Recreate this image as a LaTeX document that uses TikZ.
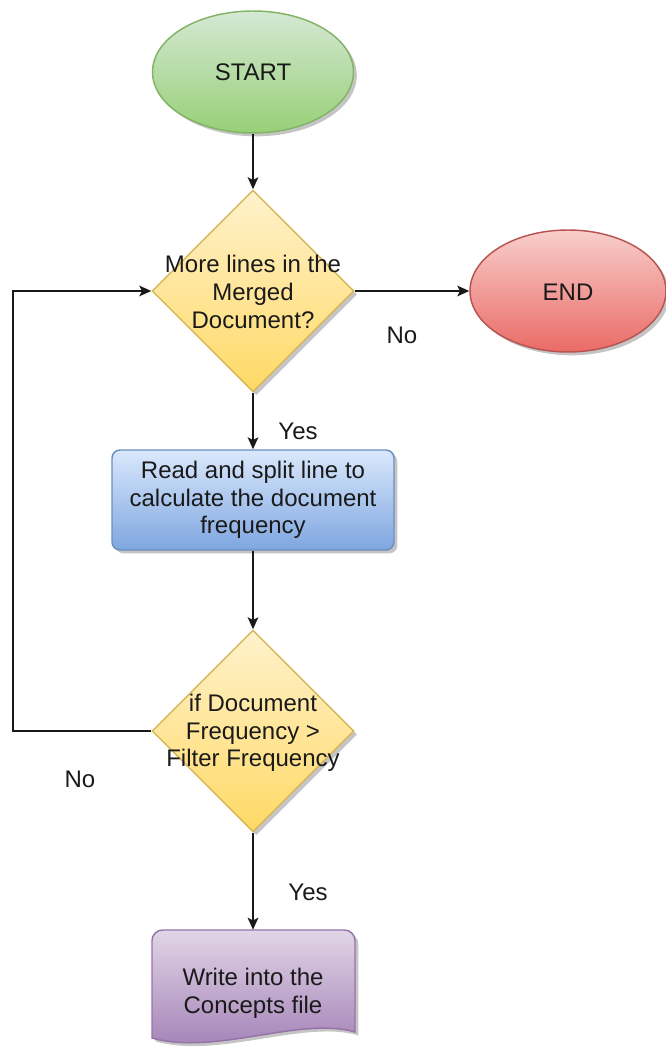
\documentclass[tikz,border=0pt]{standalone}
\usepackage{fontspec}
\setmainfont{Liberation Sans}
\usetikzlibrary{shapes.geometric,arrows.meta,shadows}
\definecolor{txt}{HTML}{1A1A1A}
\begin{document}
\begin{tikzpicture}[x=0.75pt,y=-0.75pt,
  every node/.style={font=\fontsize{18pt}{20.7pt}\selectfont, text=txt},
  shad/.style={drop shadow={shadow xshift=2.5pt,shadow yshift=-2.5pt,fill=black!45,opacity=0.5}},
  term/.style={ellipse,draw,line width=1.1pt,shad,minimum width=150.75pt,minimum height=91.5pt,inner sep=0pt},
  dec/.style={diamond,aspect=1,draw={rgb,255:red,214;green,182;blue,86},line width=1.1pt,
    top color={rgb,255:red,255;green,242;blue,204},bottom color={rgb,255:red,255;green,217;blue,102},
    shad,minimum width=151.5pt,minimum height=151.5pt,inner sep=0pt},
  proc/.style={rectangle,rounded corners=6pt,draw={rgb,255:red,108;green,142;blue,191},line width=1.1pt,
    top color={rgb,255:red,218;green,232;blue,252},bottom color={rgb,255:red,126;green,166;blue,224},
    shad,minimum width=211.5pt,minimum height=75pt,inner sep=0pt,align=center},
  lbl/.style={align=center,inner sep=0pt},
  conn/.style={line width=1.1pt,draw=black!90,-{Stealth[length=9pt,width=8pt,inset=2pt]}}
]
\useasboundingbox (0,0) rectangle (666,1048);

% START
\node[term,draw={rgb,255:red,130;green,179;blue,102},
  top color={rgb,255:red,213;green,232;blue,212},bottom color={rgb,255:red,151;green,208;blue,119}]
  (start) at (253,72) {};
\node[lbl] (startt) at (253,72) {START};

% Decision 1
\node[dec] (d1) at (253,291) {};
\node[lbl] (d1t) at (253,292) {More lines in the\\Merged\\Document?};

% END
\node[term,minimum width=147pt,draw={rgb,255:red,184;green,84;blue,80},
  top color={rgb,255:red,248;green,206;blue,204},bottom color={rgb,255:red,234;green,107;blue,102}]
  (end) at (568,291) {};
\node[lbl] (endt) at (568,292) {END};

% Process
\node[proc] (box) at (253,500) {Read and split line to\\calculate the document\\frequency};

% Decision 2
\node[dec] (d2) at (253,731) {};
\node[lbl] (d2t) at (253,733) {if Document\\Frequency >\\Filter Frequency};

% Document
\path[draw={rgb,255:red,150;green,115;blue,166},line width=1.1pt,
  top color={rgb,255:red,225;green,213;blue,231},bottom color={rgb,255:red,160;green,125;blue,180},shad]
  (152,1038) [rounded corners=8pt] -- (152,930) -- (355,930) [sharp corners] -- (355,1032)
  .. controls (300,1016) and (215,1056) .. (152,1038) -- cycle;
\node[lbl,minimum width=152pt,minimum height=82.5pt] (doc) at (253,985) {};
\node[lbl] (doct) at (253,993) {Write into the\\Concepts file};

% connectors
\coordinate (lp) at (13,731);
\draw[conn] (start.south) -- (d1.north);
\draw[conn] (d1.east) -- (end.west);
\draw[conn] (d1.south) -- (box.north);
\draw[conn] (box.south) -- (d2.north);
\draw[conn] (d2.south) -- (doc.north);
\draw[conn] (d2.west) -- (d2.west -| lp) |- (d1.west);

% labels
\node[lbl] (no1) at (402,335) {No};
\node[lbl] (yes1) at (298,431) {Yes};
\node[lbl] (no2) at (80,779) {No};
\node[lbl] (yes2) at (308,892) {Yes};
\end{tikzpicture}
\end{document}
